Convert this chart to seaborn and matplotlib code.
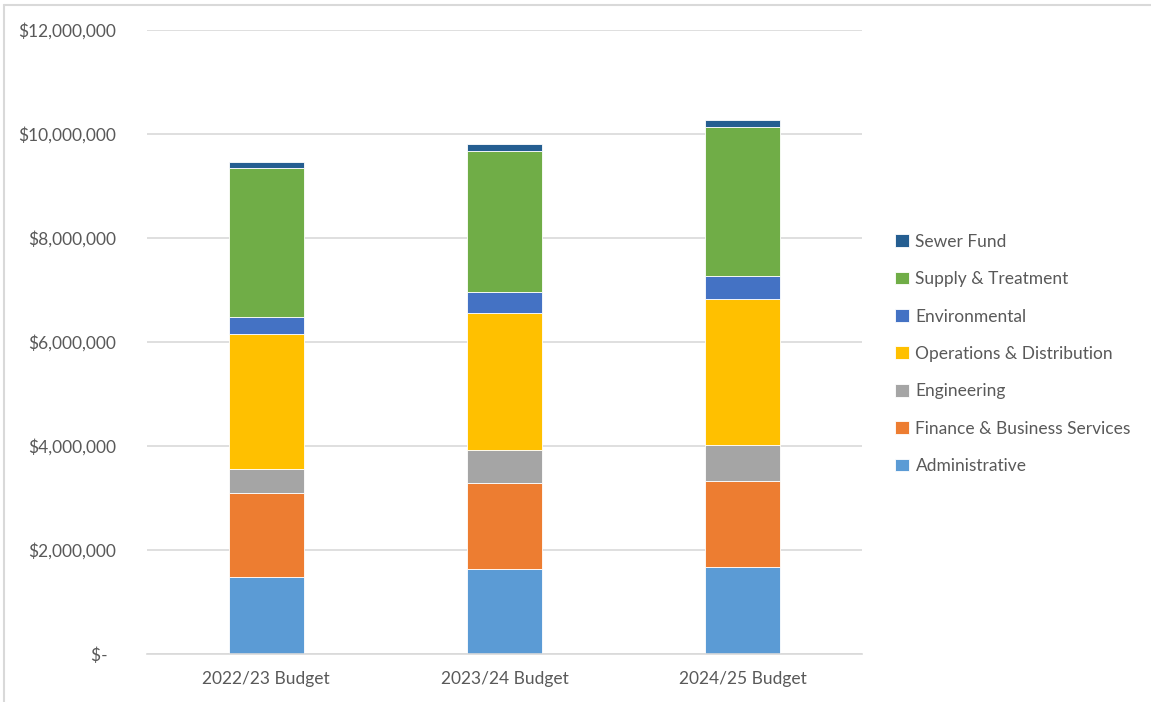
import matplotlib
matplotlib.use("Agg")
import matplotlib.pyplot as plt
import matplotlib.ticker as mticker
from matplotlib.lines import Line2D
import seaborn as sns
import pandas as pd

years = ["2022/23 Budget", "2023/24 Budget", "2024/25 Budget"]
departments = ["Sewer Fund", "Supply & Treatment", "Environmental",
               "Operations & Distribution", "Engineering",
               "Finance & Business Services", "Administrative"]
administrative = [1475000, 1635000, 1665000]
finance = [1615000, 1645000, 1655000]
engineering = [460000, 640000, 705000]
operations = [2600000, 2630000, 2795000]
environmental = [325000, 410000, 450000]
supply = [2875000, 2720000, 2860000]
sewer = [110000, 120000, 130000]
colors = ["#255E91", "#70AD47", "#4472C4", "#FFC000", "#A5A5A5", "#ED7D31", "#5B9BD5"]

series = dict(zip(departments, [sewer, supply, environmental, operations,
                                engineering, finance, administrative]))
rows = []
for dep, vals in series.items():
    for yr, v in zip(years, vals):
        rows.append({"Year": yr, "Department": dep, "Amount": v})
df = pd.DataFrame(rows)

sns.set_theme(style="white")
plt.rcParams["font.family"] = ["Lato", "DejaVu Sans"]
txt = "#595959"

fig = plt.figure(figsize=(11.51, 7.02), dpi=100)
ax = fig.add_axes([147/1151, 48/702, 715/1151, 624/702])

sns.histplot(data=df, x="Year", weights="Amount", hue="Department",
             hue_order=departments, palette=colors, multiple="stack",
             discrete=True, shrink=0.315, alpha=1, edgecolor="white",
             linewidth=0.6, ax=ax)

ax.set_xlim(-0.5, 2.5)
ax.set_ylim(0, 12000000)
ax.yaxis.set_major_locator(mticker.MultipleLocator(2000000))

def fmt(v, pos):
    if v == 0:
        return "$-  "
    return "${:,.0f}".format(v)
ax.yaxis.set_major_formatter(mticker.FuncFormatter(fmt))
ax.grid(axis="y", color="#D9D9D9", linewidth=1.2)
ax.set_axisbelow(True)
for s in ["top", "right", "left"]:
    ax.spines[s].set_visible(False)
ax.spines["bottom"].set_color("#D9D9D9")
ax.spines["bottom"].set_linewidth(1.2)
ax.tick_params(axis="y", length=0, pad=22, labelsize=12.5, labelcolor=txt)
ax.tick_params(axis="x", length=0, pad=12, labelsize=12.5, labelcolor=txt)
ax.set_xlabel("")
ax.set_ylabel("")

sns.move_legend(ax, "center left", bbox_to_anchor=(1.025, 0.481),
                title=None, frameon=False, fontsize=12.5,
                handlelength=0.75, handleheight=0.75, handletextpad=0.4,
                labelspacing=1.23, labelcolor=txt)

fig.add_artist(Line2D([4/1151, 4/1151], [0, 1 - 5/702], color="#D9D9D9", lw=1.5))
fig.add_artist(Line2D([4/1151, 1], [1 - 5/702, 1 - 5/702], color="#D9D9D9", lw=1.5))

fig.savefig("out.png", dpi=100)
